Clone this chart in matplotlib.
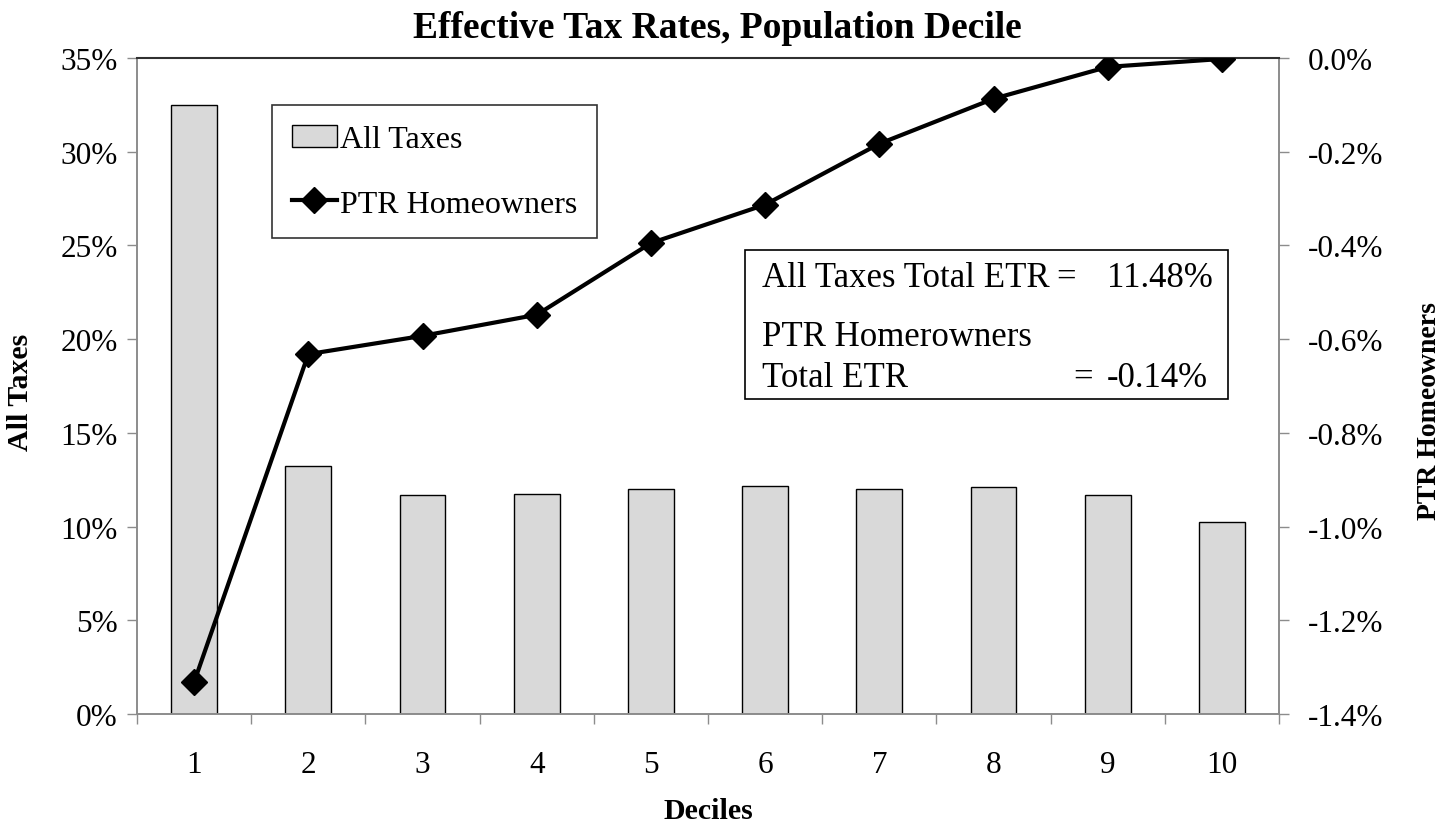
import matplotlib
matplotlib.use('Agg')
import matplotlib.pyplot as plt
import matplotlib.patches as patches
from matplotlib.ticker import FuncFormatter, FixedLocator

plt.rcParams['font.family'] = ['Liberation Serif', 'DejaVu Serif']

# data
deciles = [1, 2, 3, 4, 5, 6, 7, 8, 9, 10]
all_taxes = [32.5, 13.22, 11.66, 11.74, 12.0, 12.18, 12.0, 12.1, 11.66, 10.27]
ptr_homeowners = [-1.332, -0.632, -0.593, -0.548, -0.395, -0.313, -0.183, -0.087, -0.019, -0.002]
left_ticks = [0, 5, 10, 15, 20, 25, 30, 35]
right_ticks = [-1.4, -1.2, -1.0, -0.8, -0.6, -0.4, -0.2, 0.0]

W, H = 1446, 828
fig = plt.figure(figsize=(W / 100, H / 100), dpi=100)
fig.patch.set_facecolor('white')

ax = fig.add_axes([137 / W, 1 - 715 / H, (1279 - 137) / W, (715 - 59) / H])
ax2 = ax.twinx()

GRAY = '#8c8c8c'
TICK_FS = 22.5


def fx(px):
    return px / W


def fy(py):
    return 1 - py / H


bars = ax.bar(deciles, all_taxes, width=0.4, color='#d9d9d9',
              edgecolor='black', linewidth=1.0, label='All Taxes', zorder=2)
line, = ax2.plot(deciles, ptr_homeowners, color='black', lw=3,
                 marker='D', markersize=13, label='PTR Homeowners', zorder=3)

ax.set_xlim(0.5, 10.5)
ax.set_ylim(0, 35)
ax2.set_ylim(-1.4, 0.0)

ax.set_yticks(left_ticks)
ax.yaxis.set_major_formatter(FuncFormatter(lambda v, p: f'{v:.0f}%'))
ax2.set_yticks(right_ticks)
ax2.yaxis.set_major_formatter(FuncFormatter(lambda v, p: f'{v:.1f}%'))

# category labels centred, tick marks between categories
ax.set_xticks(deciles)
ax.set_xticklabels([str(d) for d in deciles])
ax.xaxis.set_minor_locator(FixedLocator([d + 0.5 for d in [0] + deciles]))
ax.tick_params(axis='x', which='major', length=0, pad=26, labelsize=TICK_FS)
ax.tick_params(axis='x', which='minor', length=7, width=1, color=GRAY, direction='out')
ax.tick_params(axis='y', length=7, width=1, color=GRAY, labelsize=TICK_FS, pad=7)
ax2.tick_params(axis='y', length=7, width=1, color=GRAY, labelsize=TICK_FS, pad=14)

for a in (ax, ax2):
    for s in a.spines.values():
        s.set_color(GRAY)
        s.set_linewidth(1.2)
ax2.spines['top'].set_color('#303030')
ax2.spines['top'].set_linewidth(1.5)

ax.set_xlabel('Deciles', fontsize=21.5, fontweight='bold', va='center')
ax.xaxis.set_label_coords(0.5, (715 - 812) / 656)
ax.set_ylabel('All Taxes', fontsize=21.5, fontweight='bold', va='center')
ax.yaxis.set_label_coords((21 - 137) / 1142, (715 - 392) / 656)
ax2.set_ylabel('PTR Homeowners', fontsize=20, fontweight='bold', va='center')
ax2.yaxis.set_label_coords((1430 - 137) / 1142, (715 - 411) / 656)
fig.text(fx(717), fy(38), 'Effective Tax Rates, Population Decile', fontsize=27,
         fontweight='bold', ha='center', va='baseline')

leg = ax2.legend([bars, line], ['All Taxes', 'PTR Homeowners'],
                 loc='upper left', bbox_to_anchor=((272 - 137) / 1142, (715 - 106) / 656),
                 fontsize=23, frameon=True, fancybox=False, borderpad=0.62,
                 labelspacing=1.1, handlelength=1.4, handletextpad=0.12,
                 borderaxespad=0)
leg.get_frame().set_edgecolor('black')
leg.get_frame().set_linewidth(1.2)
leg.set_zorder(5)

# summary box
box = patches.Rectangle((fx(745), fy(400)), fx(1228) - fx(745), fy(251) - fy(400),
                        transform=fig.transFigure, facecolor='white',
                        edgecolor='black', linewidth=1.2, zorder=6)
fig.patches.append(box)
fs = 25
fig.text(fx(762), fy(287), 'All Taxes Total ETR', fontsize=fs, va='baseline', zorder=7)
fig.text(fx(1066), fy(287), '=', fontsize=fs, va='baseline', ha='center', zorder=7)
fig.text(fx(1213), fy(287), '11.48%', fontsize=fs, va='baseline', ha='right', zorder=7)
fig.text(fx(762), fy(346), 'PTR Homerowners', fontsize=fs, va='baseline', zorder=7)
fig.text(fx(762), fy(387), 'Total ETR', fontsize=fs, va='baseline', zorder=7)
fig.text(fx(1083), fy(387), '=', fontsize=fs, va='baseline', ha='center', zorder=7)
fig.text(fx(1208), fy(387), '-0.14%', fontsize=fs, va='baseline', ha='right', zorder=7)

fig.savefig('out.png', dpi=100, facecolor='white')
plt.close(fig)
